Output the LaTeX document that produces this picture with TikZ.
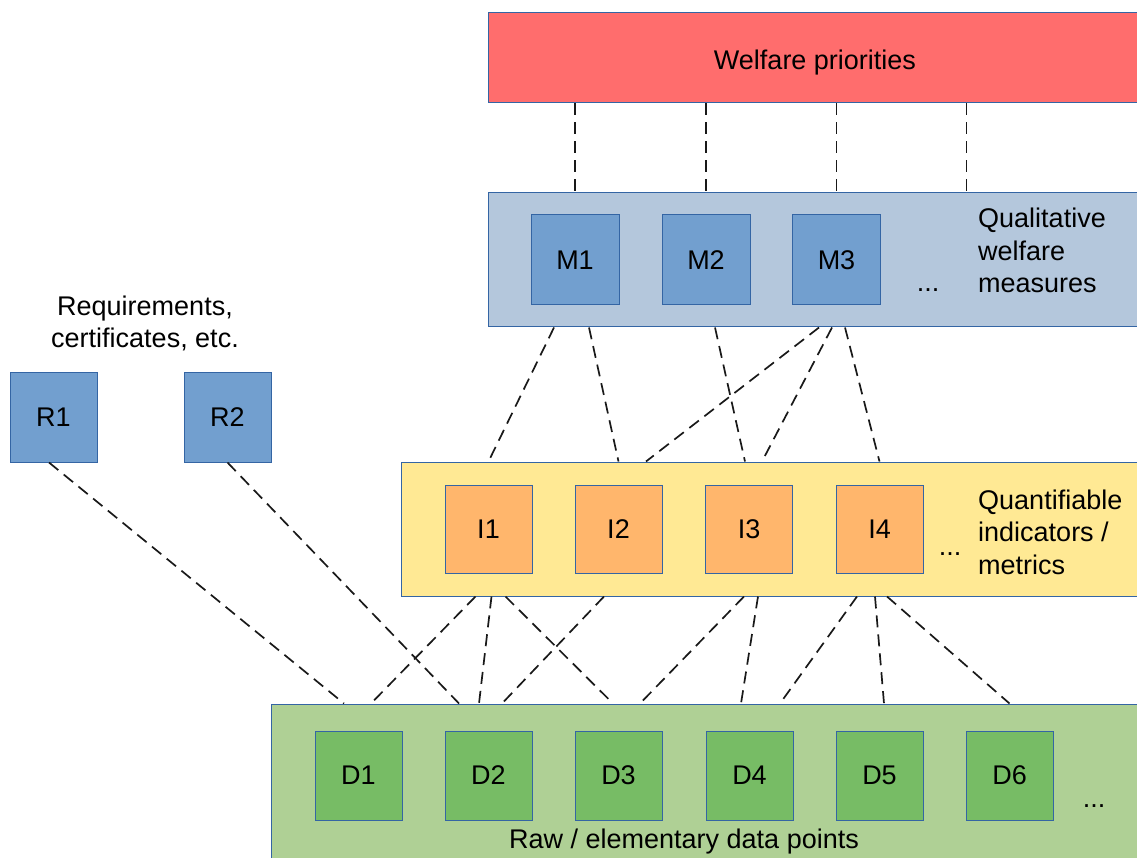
\documentclass[tikz,border=0pt]{standalone}
\usepackage{fontspec}
\setmainfont{Liberation Sans}
\definecolor{edgeblue}{HTML}{3465A4}
\definecolor{redfill}{HTML}{FF6D6D}
\definecolor{bandblue}{HTML}{B4C7DC}
\definecolor{cellblue}{HTML}{729FCF}
\definecolor{bandyellow}{HTML}{FFE994}
\definecolor{cellorange}{HTML}{FFB66C}
\definecolor{bandgreen}{HTML}{AFD095}
\definecolor{cellgreen}{HTML}{77BC65}
\begin{document}
\begin{tikzpicture}[x=1pt,y=-1pt,
  font=\fontsize{27}{32.5}\selectfont,
  band/.style={draw=edgeblue, line width=1pt, inner sep=0pt},
  cell/.style={draw=edgeblue, line width=1pt, inner sep=0pt,
               minimum width=87pt, minimum height=89pt},
  link/.style={line width=1.7pt, black!90, dash pattern=on 12pt off 7pt},
  caption/.style={inner sep=0pt, align=left, anchor=west},
  more/.style={inner sep=0pt, anchor=base}
]
\clip (0,0) rectangle (1137,858);

% layer bands
\node[band, fill=redfill, minimum width=654pt, minimum height=90pt] (wp) at (815,58) {};
\node[inner sep=0pt] (wptext) at ([yshift=-5pt]wp.center) {Welfare priorities};
\node[band, fill=bandblue, minimum width=662pt, minimum height=134pt] (mq) at (819,260) {};
\node[band, fill=bandyellow, minimum width=749pt, minimum height=134pt] (iq) at (775.5,529) {};
\node[band, fill=bandgreen, minimum width=879pt, minimum height=166pt] (dr) at (710.5,787) {};

% qualitative measures
\node[cell, fill=cellblue, minimum width=88pt, minimum height=90pt] (M1) at (575,260) {M1};
\node[cell, fill=cellblue, minimum width=88pt, minimum height=90pt] (M2) at (706,260) {M2};
\node[cell, fill=cellblue, minimum width=88pt, minimum height=90pt] (M3) at (836.5,260) {M3};
\node[more] (Mdots) at (928,292) {...};
\node[caption] (Mcap) at (978,250.5) {Qualitative\\welfare\\measures};

% requirements
\node[inner sep=0pt, align=center] (Rcap) at (145,323.5) {Requirements,\\certificates, etc.};
\node[cell, fill=cellblue, minimum height=90pt] (R1) at (53.5,417) {R1};
\node[cell, fill=cellblue, minimum height=90pt] (R2) at (227.5,417) {R2};

% indicators
\node[cell, fill=cellorange, minimum height=88pt] (I1) at (488.5,529) {I1};
\node[cell, fill=cellorange, minimum height=88pt] (I2) at (618.5,529) {I2};
\node[cell, fill=cellorange, minimum height=88pt] (I3) at (749,529) {I3};
\node[cell, fill=cellorange, minimum height=88pt] (I4) at (879.5,529) {I4};
\node[more] (Idots) at (950,555) {...};
\node[caption] (Icap) at (978,532) {Quantifiable\\indicators /\\metrics};

% data points
\node[cell, fill=cellgreen] (D1) at (358.5,775.5) {D1};
\node[cell, fill=cellgreen] (D2) at (488.5,775.5) {D2};
\node[cell, fill=cellgreen] (D3) at (618.5,775.5) {D3};
\node[cell, fill=cellgreen] (D4) at (749.5,775.5) {D4};
\node[cell, fill=cellgreen] (D5) at (879.5,775.5) {D5};
\node[cell, fill=cellgreen] (D6) at (1009.5,775.5) {D6};
\node[more] (Ddots) at (1094,807) {...};
\node[inner sep=0pt] (Dcap) at (684,842) {Raw / elementary data points};

% priorities to measures
\draw[link] (M1 |- wp.south) -- (M1 |- mq.north);
\draw[link] (M2 |- wp.south) -- (M2 |- mq.north);
\draw[link] (M3 |- wp.south) -- (M3 |- mq.north);
\draw[link] ([xshift=130pt]M3.center |- wp.south) -- ([xshift=130pt]M3.center |- mq.north);

% measures to indicators
\draw[link] ([xshift=-21pt]M1.south |- mq.south) -- (I1.north |- iq.north);
\draw[link] ([xshift=14pt]M1.south |- mq.south) -- (I2.north |- iq.north);
\draw[link] ([xshift=9pt]M2.south |- mq.south) -- ([xshift=-4pt]I3.north |- iq.north);
\draw[link] ([xshift=-17.5pt]M3.south |- mq.south) -- ([xshift=27.5pt]I2.north |- iq.north);
\draw[link] ([xshift=-4.5pt]M3.south |- mq.south) -- ([xshift=13pt]I3.north |- iq.north);
\draw[link] ([xshift=8.5pt]M3.south |- mq.south) -- (I4.north |- iq.north);

% indicators to data points
\draw[link] ([xshift=-13pt]I1.south |- iq.south) -- ([xshift=12.5pt]D1.north |- dr.north);
\draw[link] ([xshift=3pt]I1.south |- iq.south) -- ([xshift=-9.5pt]D2.north |- dr.north);
\draw[link] ([xshift=17pt]I1.south |- iq.south) -- ([xshift=-5.5pt]D3.north |- dr.north);
\draw[link] ([xshift=-14.5pt]I2.south |- iq.south) -- ([xshift=13.5pt]D2.north |- dr.north);
\draw[link] ([xshift=-5pt]I3.south |- iq.south) -- ([xshift=21.5pt]D3.north |- dr.north);
\draw[link] ([xshift=9pt]I3.south |- iq.south) -- ([xshift=-8.5pt]D4.north |- dr.north);
\draw[link] ([xshift=-22.5pt]I4.south |- iq.south) -- ([xshift=30.5pt]D4.north |- dr.north);
\draw[link] ([xshift=-4.5pt]I4.south |- iq.south) -- ([xshift=4.5pt]D5.north |- dr.north);
\draw[link] ([xshift=7.5pt]I4.south |- iq.south) -- (D6.north |- dr.north);

% requirements to data points
\draw[link] ([xshift=-4.5pt]R1.south) -- ([xshift=-14.5pt]D1.north |- dr.north);
\draw[link] (R2.south) -- ([xshift=-29.5pt]D2.north |- dr.north);
\end{tikzpicture}
\end{document}
